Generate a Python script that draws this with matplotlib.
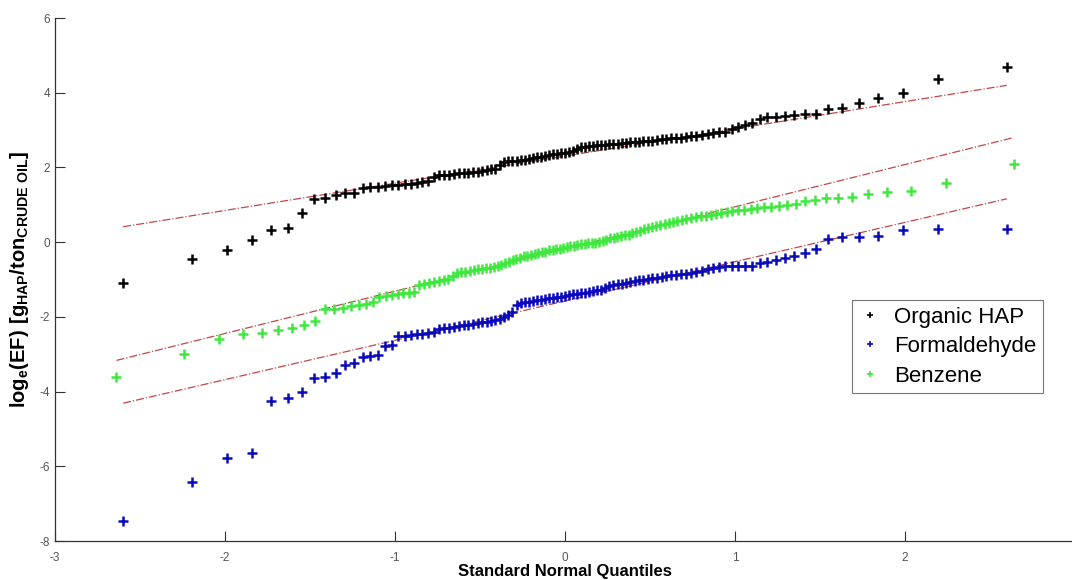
import numpy as np
import matplotlib
matplotlib.use("Agg")
import matplotlib.pyplot as plt
from statistics import NormalDist

# sorted log_e(EF) samples
organic_hap = [
    -1.10, -0.46, -0.21, 0.07, 0.32, 0.37, 0.77, 1.16, 1.18, 1.26,
    1.31, 1.31, 1.44, 1.48, 1.49, 1.50, 1.52, 1.53, 1.55, 1.57,
    1.59, 1.62, 1.65, 1.75, 1.79, 1.80, 1.81, 1.83, 1.84, 1.85,
    1.86, 1.88, 1.89, 1.91, 1.93, 1.95, 1.97, 2.06, 2.14, 2.16,
    2.17, 2.18, 2.19, 2.21, 2.23, 2.25, 2.27, 2.29, 2.31, 2.33,
    2.35, 2.37, 2.38, 2.40, 2.41, 2.43, 2.50, 2.55, 2.56, 2.57,
    2.58, 2.59, 2.60, 2.61, 2.62, 2.63, 2.64, 2.65, 2.66, 2.67,
    2.68, 2.69, 2.70, 2.71, 2.72, 2.73, 2.75, 2.76, 2.78, 2.79,
    2.80, 2.82, 2.83, 2.85, 2.87, 2.89, 2.91, 2.94, 2.96, 3.02,
    3.08, 3.13, 3.18, 3.30, 3.34, 3.34, 3.39, 3.40, 3.43, 3.44,
    3.57, 3.60, 3.73, 3.87, 3.98, 4.37, 4.69,
]

formaldehyde = [
    -7.46, -6.42, -5.79, -5.64, -4.25, -4.17, -4.01, -3.64, -3.62, -3.51,
    -3.29, -3.24, -3.07, -3.05, -3.02, -2.79, -2.75, -2.52, -2.50, -2.48,
    -2.47, -2.45, -2.43, -2.40, -2.33, -2.31, -2.29, -2.27, -2.25, -2.23,
    -2.21, -2.19, -2.17, -2.15, -2.13, -2.11, -2.08, -2.05, -2.01, -1.96,
    -1.88, -1.68, -1.63, -1.61, -1.59, -1.57, -1.56, -1.54, -1.52, -1.50,
    -1.49, -1.47, -1.46, -1.44, -1.42, -1.40, -1.39, -1.37, -1.35, -1.33,
    -1.31, -1.29, -1.27, -1.22, -1.17, -1.15, -1.13, -1.11, -1.08, -1.06,
    -1.04, -1.02, -1.00, -0.98, -0.96, -0.95, -0.93, -0.91, -0.89, -0.88,
    -0.86, -0.84, -0.82, -0.79, -0.76, -0.73, -0.70, -0.67, -0.65, -0.64,
    -0.64, -0.64, -0.63, -0.57, -0.53, -0.47, -0.42, -0.36, -0.30, -0.18,
    0.08, 0.14, 0.14, 0.16, 0.32, 0.36, 0.36,
]

benzene = [
    -3.60, -3.00, -2.58, -2.46, -2.43, -2.34, -2.30, -2.22, -2.12, -1.80,
    -1.78, -1.75, -1.71, -1.69, -1.66, -1.60, -1.47, -1.44, -1.42, -1.40,
    -1.37, -1.35, -1.33, -1.15, -1.13, -1.10, -1.07, -1.04, -1.02, -0.99,
    -0.90, -0.83, -0.81, -0.79, -0.77, -0.75, -0.73, -0.72, -0.70, -0.69,
    -0.67, -0.65, -0.61, -0.56, -0.52, -0.48, -0.45, -0.42, -0.38, -0.36,
    -0.34, -0.31, -0.29, -0.27, -0.25, -0.22, -0.20, -0.18, -0.17, -0.15,
    -0.13, -0.11, -0.09, -0.07, -0.06, -0.05, -0.03, -0.02, -0.01, 0.01,
    0.04, 0.07, 0.10, 0.12, 0.14, 0.16, 0.18, 0.20, 0.24, 0.28,
    0.31, 0.34, 0.37, 0.40, 0.43, 0.45, 0.48, 0.51, 0.54, 0.56,
    0.60, 0.63, 0.65, 0.67, 0.69, 0.71, 0.73, 0.75, 0.77, 0.81,
    0.83, 0.85, 0.87, 0.89, 0.91, 0.93, 0.95, 0.97, 0.99, 1.01,
    1.11, 1.14, 1.17, 1.19, 1.21, 1.28, 1.34, 1.36, 1.58, 2.10,
]

series_names = ["Organic HAP", "Formaldehyde", "Benzene"]
series_colors = ["black", "#0a0ab8", "#3ee83e"]

plt.rcParams["font.family"] = ["Liberation Sans", "DejaVu Sans"]
plt.rcParams["mathtext.fontset"] = "custom"
plt.rcParams["mathtext.rm"] = "Liberation Sans"
plt.rcParams["mathtext.bf"] = "Liberation Sans:bold"
plt.rcParams["axes.unicode_minus"] = False


def normal_quantiles(n):
    # plotting positions (i - 0.5) / n, as MATLAB qqplot uses
    nd = NormalDist()
    return np.array([nd.inv_cdf((i - 0.5) / n) for i in range(1, n + 1)])


fig = plt.figure(figsize=(10.72, 5.8), dpi=100)
ax = fig.add_axes([0.0513, 0.0672, 0.9515, 0.9017])

for name, data, color in zip(series_names, [organic_hap, formaldehyde, benzene], series_colors):
    y = np.sort(np.array(data))
    x = normal_quantiles(len(y))
    ax.plot(x, y, "+", color=color, ms=6.5, mew=1.8, label=name)
    # reference line through the first and third quartiles
    qx = np.percentile(x, [25, 75], method="hazen")
    qy = np.percentile(y, [25, 75], method="hazen")
    slope = (qy[1] - qy[0]) / (qx[1] - qx[0])
    xl = np.array([x.min(), x.max()])
    ax.plot(xl, qy[0] + slope * (xl - qx[0]), "-.", color="#c04848", lw=0.9, zorder=1)

ax.set_xlim(-3, 3)
ax.set_ylim(-8, 6)
ax.set_xticks(np.arange(-3, 4, 1))
ax.set_yticks(np.arange(-8, 7, 2))
for s in ["top", "right"]:
    ax.spines[s].set_visible(False)
for s in ["left", "bottom"]:
    ax.spines[s].set_color("#333333")
    ax.spines[s].set_linewidth(0.9)
ax.tick_params(direction="in", length=7, width=0.8, colors="#333333",
               labelcolor="#555555", labelsize=8.5)
ax.tick_params(axis="x", pad=8)

ax.set_xlabel("Standard Normal Quantiles", fontsize=12, fontweight="bold", labelpad=0)
ax.set_ylabel(r"$\mathbf{log_e(EF)\ [g_{HAP}/ton_{CRUDE\ OIL}]}$", fontsize=14.5, labelpad=6)

leg = ax.legend(loc="upper left", bbox_to_anchor=(852 / 1072, 1 - 300 / 580),
                bbox_transform=fig.transFigure, borderaxespad=0, fontsize=16,
                frameon=True, fancybox=False, edgecolor="#555555",
                handlelength=1.0, handletextpad=0.6, labelspacing=0.38,
                borderpad=0.3)
leg.get_frame().set_linewidth(0.8)
for h in leg.legend_handles:
    h.set_markersize(4)
    h.set_markeredgewidth(1.2)

fig.savefig("out.png", dpi=100)
